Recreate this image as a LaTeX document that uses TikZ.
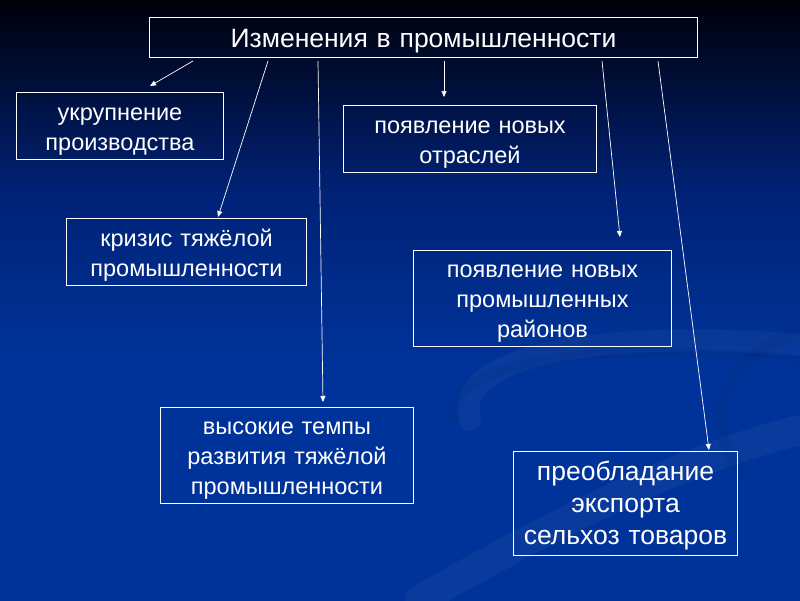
\documentclass[tikz,border=0pt]{standalone}
\usepackage{fontspec}
\setmainfont{Liberation Sans}
\usetikzlibrary{arrows.meta,calc}
\definecolor{bgtop}{RGB}{0,0,10}
\definecolor{bgmid}{RGB}{0,34,118}
\definecolor{bgbot}{RGB}{0,51,153}
\pgfdeclareverticalshading{bgsh}{100bp}{color(0bp)=(bgbot); color(25bp)=(bgbot); color(45bp)=(bgbot); color(59bp)=(bgmid); color(75bp)=(bgtop); color(100bp)=(bgtop)}
\newcommand\bxstrut{\rule[-6pt]{0pt}{30pt}}
\newcommand\bxstrutb{\rule[-7pt]{0pt}{32pt}}
\newcommand\ttlstrut{\rule[-5pt]{0pt}{30pt}}
\begin{document}
\begin{tikzpicture}[x=1pt,y=-1pt,
  box/.style={draw=white, line width=1pt, text=white, inner sep=0pt, align=center, anchor=north west, font=\fontsize{23.5}{30}\selectfont},
  arr/.style={draw=white, line width=0.7pt, -{Triangle[length=6pt,width=5pt]}},
  swirl/.style={line cap=round, opacity=0.035}]
\shade[shading=bgsh] (0,0) rectangle (800,600);
\useasboundingbox (0,0) rectangle (800,600);
% faint background swirls
\draw[swirl, white, line width=22pt] (470,420) .. controls (450,350) and (620,330) .. (800,345);
\draw[swirl, black, line width=10pt] (455,420) .. controls (440,360) and (600,340) .. (800,360);
\draw[swirl, white, line width=30pt] (420,600) .. controls (560,520) and (680,460) .. (800,430);
\draw[swirl, black, line width=12pt] (740,470) .. controls (700,420) and (720,360) .. (800,330);
% nodes
\node[box, font=\fontsize{26.5}{30}\selectfont, minimum width=548pt, minimum height=40pt, text width=548pt] (title) at (149,17) {\ttlstrut Изменения в промышленности};
\node[box, minimum width=207pt, minimum height=67pt, text width=207pt] (ukr) at (16,92) {\bxstrut укрупнение\\производства\bxstrut};
\node[box, minimum width=253pt, minimum height=67pt, text width=253pt] (otr) at (343,105) {\bxstrut появление новых\\отраслей\bxstrut};
\node[box, minimum width=240pt, minimum height=67pt, text width=240pt] (kriz) at (66,218) {\bxstrut кризис тяжёлой\\промышленности\bxstrut};
\node[box, minimum width=258pt, minimum height=96pt, text width=258pt] (rai) at (413,250) {\bxstrut появление новых\\промышленных\\районов\bxstrut};
\node[box, minimum width=253pt, minimum height=96pt, text width=253pt] (vys) at (160,407) {\bxstrut высокие темпы\\развития тяжёлой\\промышленности\bxstrut};
\node[box, font=\fontsize{26.5}{32}\selectfont, minimum width=224pt, minimum height=104pt, text width=224pt] (pre) at (513,451) {\bxstrutb преобладание\\экспорта\\сельхоз товаров\bxstrutb};
% connector ends
\coordinate (s1) at ($(title.south west)+(44,3)$);
\coordinate (s2) at ($(title.south west)+(119,3)$);
\coordinate (s3) at ($(title.south west)+(169,3)$);
\coordinate (s4) at ($(title.south west)+(295,3)$);
\coordinate (s5) at ($(title.south west)+(453,3)$);
\coordinate (s6) at ($(title.south west)+(509,3)$);
\coordinate (e1) at ($(ukr.north west)+(134,-6)$);
\coordinate (e2) at ($(kriz.north west)+(152,-1)$);
\coordinate (e3) at ($(vys.north west)+(163,-5)$);
\coordinate (e4) at ($(otr.north west)+(101,-8)$);
\coordinate (e5) at ($(rai.north west)+(207,-13)$);
\coordinate (e6) at ($(pre.north west)+(196,-1)$);
\draw[arr] (s1) -- (e1);
\draw[arr] (s2) -- (e2);
\draw[arr] (s3) -- (e3);
\draw[arr] (s4) -- (e4);
\draw[arr] (s5) -- (e5);
\draw[arr] (s6) -- (e6);
\end{tikzpicture}
\end{document}
